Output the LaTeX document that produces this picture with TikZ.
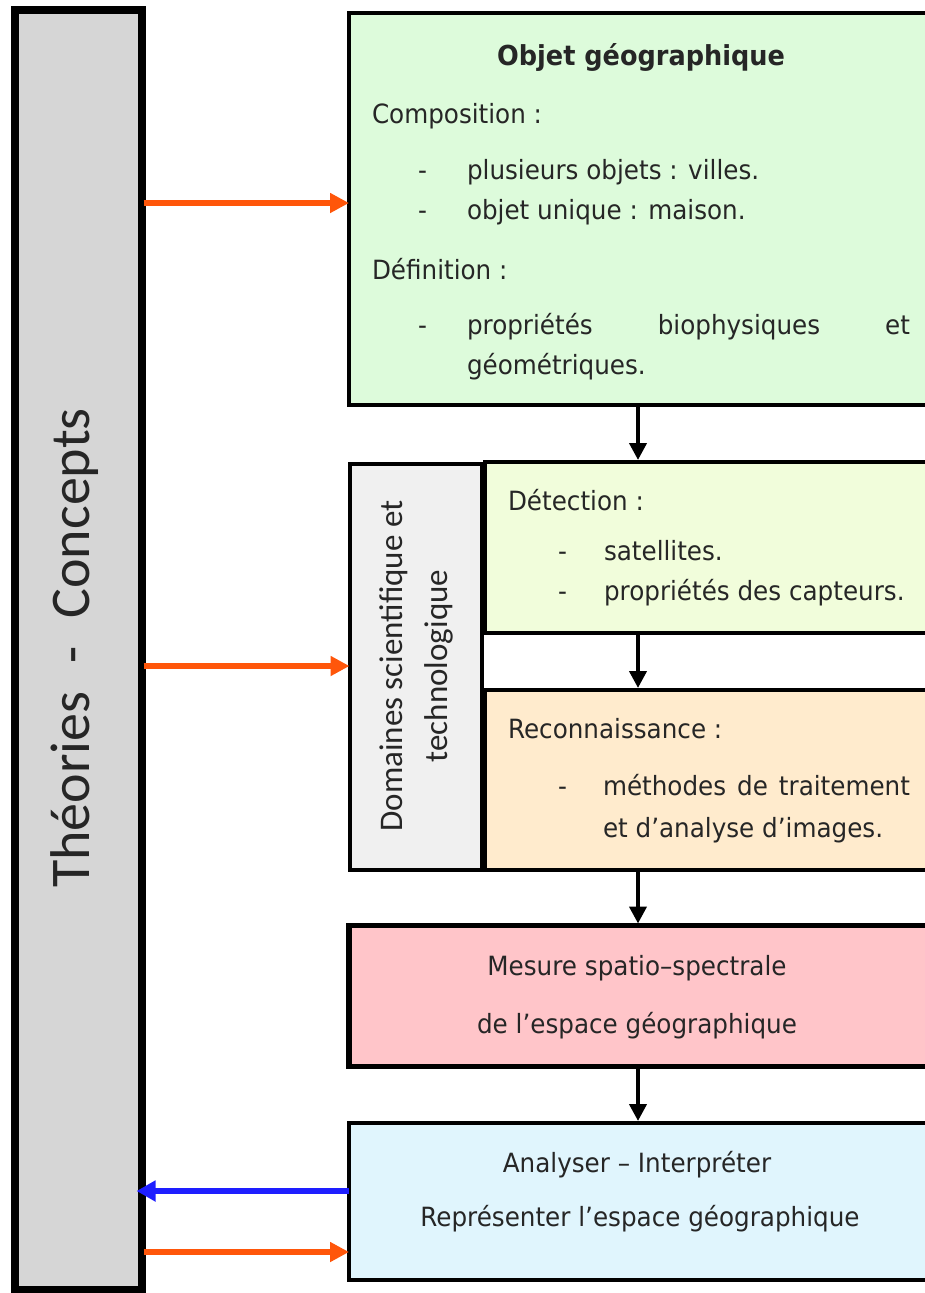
\documentclass[tikz,border=0pt]{standalone}
\usepackage{fontspec}
\setmainfont[FakeStretch=0.93]{DejaVu Sans}
\newfontfamily\calfont{Carlito}
\usetikzlibrary{arrows.meta}
\definecolor{barfill}{HTML}{D6D6D6}
\definecolor{greenfill}{HTML}{DDFBDB}
\definecolor{domfill}{HTML}{F0F0F0}
\definecolor{yelfill}{HTML}{F1FDDB}
\definecolor{orfill}{HTML}{FFEBCD}
\definecolor{pinkfill}{HTML}{FFC5C9}
\definecolor{bluefill}{HTML}{E0F5FD}
\definecolor{orarrow}{HTML}{FF560A}
\definecolor{bluearrow}{HTML}{1E1EFF}
\definecolor{txtc}{HTML}{262626}
\begin{document}
\begin{tikzpicture}[x=1pt,y=-1pt,
  box/.style={draw=black, inner sep=0pt, outer sep=0pt, anchor=north west},
  txt/.style={inner sep=0pt, outer sep=0pt, text=txtc, font=\fontsize{26.5}{31}\selectfont, anchor=base west},
  ctxt/.style={txt, anchor=base},
  vtxt/.style={inner sep=0pt, outer sep=0pt, text=txtc, anchor=base, rotate=90},
  flow/.style={draw=black, line width=4pt, -{Triangle[length=17pt 0 0,width=17pt 0 0]}, shorten >=2pt},
  feed/.style={draw=orarrow, line width=6.5pt, -{Triangle[length=19pt 0 0,width=19pt 0 0]}, shorten <=2pt},
  back/.style={draw=bluearrow, line width=6.5pt, -{Triangle[length=19pt 0 0,width=20pt 0 0]}, shorten >=-5pt}]
\useasboundingbox (0,0) rectangle (924,1293);
% boxes
\node[box, line width=8pt, fill=barfill, minimum width=127pt, minimum height=1280pt] (bar) at (14.5,10) {};
\node[box, line width=4.5pt, fill=greenfill, minimum width=581pt, minimum height=392pt] (green) at (349,13) {};
\node[box, line width=4pt, fill=domfill, minimum width=132pt, minimum height=406pt] (dom) at (349.5,464) {};
\node[box, line width=4pt, fill=yelfill, minimum width=445pt, minimum height=171pt] (yel) at (485,462) {};
\node[box, line width=4pt, fill=orfill, minimum width=445pt, minimum height=180pt] (orb) at (485,690) {};
\node[box, line width=5.5pt, fill=pinkfill, minimum width=581pt, minimum height=141pt] (pink) at (349,925.5) {};
\node[box, line width=4.5pt, fill=bluefill, minimum width=581pt, minimum height=157pt] (blue) at (349,1123) {};
% helper coordinates
\coordinate (col) at (638,0);
\coordinate (r1) at (0,203);
\coordinate (r2) at (0,666);
\coordinate (r3) at (0,1191);
\coordinate (r4) at (0,1252);
% vertical flow arrows
\draw[flow] (green.south -| col) -- (yel.north -| col);
\draw[flow] (yel.south -| col) -- (orb.north -| col);
\draw[flow] (orb.south -| col) -- (pink.north -| col);
\draw[flow] (pink.south -| col) -- (blue.north -| col);
% horizontal arrows
\draw[feed] (bar.east |- r1) -- (green.west |- r1);
\draw[feed] (bar.east |- r2) -- (dom.west |- r2);
\draw[back] (blue.west |- r3) -- (bar.east |- r3);
\draw[feed] (bar.east |- r4) -- (blue.west |- r4);
% texts
\node[vtxt, font=\calfont\fontsize{56}{60}\selectfont] (theo) at (89,648) {Théories\hspace{28pt}-\hspace{28pt}Concepts};
\node[vtxt, font=\calfont\fontsize{33}{38}\selectfont] (dom1) at (402,666) {Domaines scientifique et};
\node[vtxt, font=\calfont\fontsize{33}{38}\selectfont] (dom2) at (447,666) {technologique};
\node[ctxt, font=\fontsize{27.5}{31}\selectfont\bfseries] (title) at (641,65) {Objet géographique};
\node[txt] (comp) at (372,123) {Composition :};
\node[txt] (d1) at (418,179) {-};
\node[txt] (l1) at (467,179) {plusieurs objets : villes.};
\node[txt] (d2) at (418,219) {-};
\node[txt] (l2) at (467,219) {objet unique : maison.};
\node[txt] (def) at (372,279) {Définition :};
\node[txt] (d3) at (418,334) {-};
\node[txt] (l3) at (467,334) {\makebox[443pt][s]{propriétés biophysiques et}};
\node[txt] (l4) at (467,374) {géométriques.};
\node[txt] (det) at (508,510) {Détection :};
\node[txt] (d4) at (558,560) {-};
\node[txt] (l5) at (604,560) {satellites.};
\node[txt] (d5) at (558,600) {-};
\node[txt] (l6) at (604,600) {propriétés des capteurs.};
\node[txt] (rec) at (508,738) {Reconnaissance :};
\node[txt] (d6) at (558,795) {-};
\node[txt] (l7) at (603,795) {\makebox[307pt][s]{méthodes de traitement}};
\node[txt] (l8) at (603,837) {et d’analyse d’images.};
\node[ctxt] (m1) at (637,975) {Mesure spatio–spectrale};
\node[ctxt] (m2) at (637,1033) {de l’espace géographique};
\node[ctxt] (a1) at (637,1172) {Analyser – Interpréter};
\node[ctxt] (a2) at (640,1226) {Représenter l’espace géographique};
\end{tikzpicture}
\end{document}
